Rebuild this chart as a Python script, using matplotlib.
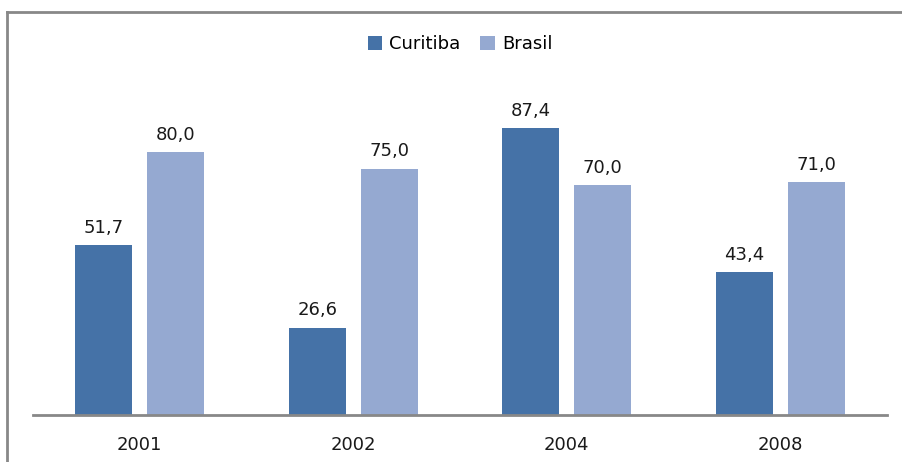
import numpy as np
import matplotlib
matplotlib.use('Agg')
from matplotlib import pyplot as plt
from matplotlib.lines import Line2D

# data
years = ['2001', '2002', '2004', '2008']
curitiba = [51.7, 26.6, 87.4, 43.4]
brasil = [80.0, 75.0, 70.0, 71.0]

c_cur = '#4572A7'
c_bra = '#95A9D1'
gray = '#888888'

plt.rcParams['font.family'] = ['DejaVu Sans']

fig = plt.figure(figsize=(9.02, 4.62), dpi=100)
ax = fig.add_axes([33/902, 1-415/462, 854/902, 355/462])

x = np.arange(len(years))
w = 0.267
off = 0.169
b1 = ax.bar(x-off, curitiba, w, color=c_cur, label='Curitiba')
b2 = ax.bar(x+off, brasil, w, color=c_bra, label='Brasil')

for bars, vals in [(b1, curitiba), (b2, brasil)]:
    for r, v in zip(bars, vals):
        ax.annotate(f'{v:.1f}'.replace('.', ','), (r.get_x()+r.get_width()/2, v),
                    xytext=(0, 6), textcoords='offset points',
                    ha='center', va='bottom', fontsize=13, color='#1a1a1a')

ax.set_xlim(-0.5, len(years)-0.5)
ax.set_ylim(0, 355/3.284)
ax.set_xticks(x)
ax.set_xticklabels(years, fontsize=13, color='#1a1a1a')
ax.tick_params(axis='x', length=0, pad=15)
ax.set_yticks([])
for s in ['top', 'right', 'left']:
    ax.spines[s].set_visible(False)
ax.spines['bottom'].set_color(gray)
ax.spines['bottom'].set_linewidth(2)

fig.legend(handles=[b1, b2], loc='center', bbox_to_anchor=(460/902, 1-44/462),
           ncol=2, frameon=False, fontsize=13, handlelength=0.8, handleheight=0.8,
           handletextpad=0.4, columnspacing=1.1)

# outer frame (top and left)
fig.add_artist(Line2D([7/902, 1.0], [1-12/462, 1-12/462], color=gray, lw=2, transform=fig.transFigure))
fig.add_artist(Line2D([7/902, 7/902], [0, 1-12/462], color=gray, lw=2, transform=fig.transFigure))

fig.savefig('out.png', dpi=100)
